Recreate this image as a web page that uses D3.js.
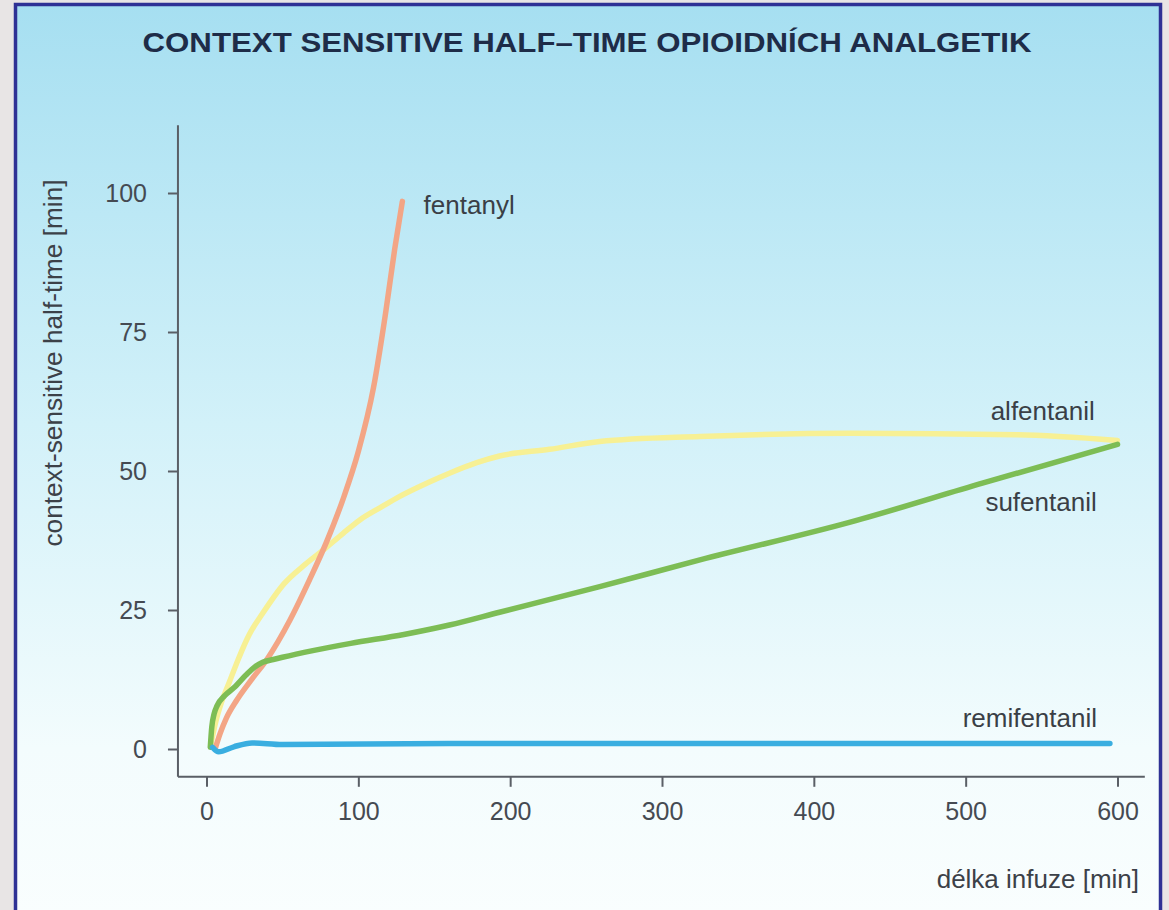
<!DOCTYPE html>
<html><head><meta charset="utf-8">
<script src="https://cdn.jsdelivr.net/npm/d3@7"></script>
<style>html,body{margin:0;padding:0;background:#e6e3e3;}svg{display:block;}</style>
</head><body>
<svg id="chart" width="1169" height="910"></svg>
<script>
// ---- data ----
const titleText = "CONTEXT SENSITIVE HALF\u2013TIME OPIOIDNÍCH ANALGETIK";
const xLabel = "délka infuze [min]";
const yLabel = "context-sensitive half-time [min]";
const xTicks = [0, 100, 200, 300, 400, 500, 600];
const yTicks = [0, 25, 50, 75, 100];

const fentanylT = [6, 9, 13, 20, 30, 40, 55, 68, 79, 90, 100, 110, 118, 124, 129];
const fentanylV = [0.3, 2.8, 5.5, 8.8, 12.6, 16.2, 23.2, 30.5, 37.2, 45, 53.5, 65, 78.5, 90, 98.5];

const alfentanilT = [3, 6, 10, 15, 21, 28, 37, 51, 65, 77, 90, 101, 115, 127, 145, 160, 178, 193, 226, 259, 325, 424, 534, 600];
const alfentanilV = [1, 4.8, 8.5, 12, 16.2, 20.5, 24.4, 29.7, 33.2, 35.8, 38.8, 41.2, 43.5, 45.4, 47.8, 49.6, 51.5, 52.7, 53.9, 55.3, 56.2, 56.8, 56.5, 55.5];

const sufentanilT = [2.5, 3.5, 5, 7, 12, 18, 26, 32, 37, 44, 50, 70, 95, 130, 160, 193, 259, 325, 424, 511, 600];
const sufentanilV = [0.3, 4, 6.3, 7.8, 9.6, 11, 13.3, 14.8, 15.6, 16.1, 16.5, 17.7, 19, 20.6, 22.3, 24.6, 29.2, 34, 40.8, 47.8, 54.8];

const remifentanilT = [4, 8, 18, 30, 50, 160, 300, 450, 595];
const remifentanilV = [0.3, -0.5, 0.4, 1.1, 0.8, 1.0, 1.0, 1.0, 1.0];

const seriesNames = ["alfentanil", "fentanyl", "sufentanil", "remifentanil"];
const seriesColors = ["#f7f094", "#f3a585", "#7dbd55", "#3aaee0"];

// ---- drawing ----
const svg = d3.select("#chart");
const defs = svg.append("defs");
const grad = defs.append("linearGradient").attr("id", "bg").attr("x1", 0).attr("y1", 0).attr("x2", 0).attr("y2", 1);
grad.append("stop").attr("offset", "0").attr("stop-color", "#a6dff1");
grad.append("stop").attr("offset", "0.45").attr("stop-color", "#d2f1f9");
grad.append("stop").attr("offset", "0.8").attr("stop-color", "#f3fcfd");
grad.append("stop").attr("offset", "1").attr("stop-color", "#fafefe");

svg.append("rect").attr("x", 0).attr("y", 0).attr("width", 1169).attr("height", 910).attr("fill", "#e8e5e5");
svg.append("rect").attr("x", 15.5).attr("y", 4.5).attr("width", 1145).attr("height", 930)
  .attr("fill", "url(#bg)").attr("stroke", "#2e3195").attr("stroke-width", 3.5);

const x = d3.scaleLinear().domain([0, 600]).range([206.5, 1117.5]);
const y = d3.scaleLinear().domain([0, 100]).range([749, 193]);

const FONT = "Liberation Sans, Arial, sans-serif";

// title
svg.append("text").attr("x", 587).attr("y", 52).attr("text-anchor", "middle")
  .attr("font-family", FONT).attr("font-weight", "bold")
  .attr("font-size", 28).attr("fill", "#1e2c48")
  .attr("textLength", 889).attr("lengthAdjust", "spacingAndGlyphs")
  .text(titleText);

const axisColor = "#5a5f66";
const g = svg.append("g");

// axis lines
g.append("line").attr("x1", x(-18.8)).attr("x2", x(-18.8)).attr("y1", y(112.2)).attr("y2", y(-5))
  .attr("stroke", axisColor).attr("stroke-width", 2);
g.append("line").attr("x1", x(-18.8)).attr("x2", x(618)).attr("y1", y(-5)).attr("y2", y(-5))
  .attr("stroke", axisColor).attr("stroke-width", 2);

const yAxis = g.append("g").attr("transform", `translate(${x(-18.8)},0)`)
  .call(d3.axisLeft(y).tickValues(yTicks).tickSize(10).tickPadding(21));
const xAxis = g.append("g").attr("transform", `translate(0,${y(-5)})`)
  .call(d3.axisBottom(x).tickValues(xTicks).tickSize(10).tickPadding(15));
[yAxis, xAxis].forEach(a => {
  a.select(".domain").remove();
  a.selectAll(".tick line").attr("stroke", axisColor).attr("stroke-width", 2);
  a.selectAll(".tick text").attr("fill", "#454a52").attr("font-size", 25)
    .attr("font-family", FONT);
});

// axis labels
svg.append("text").attr("transform", "translate(62,363) rotate(-90)").attr("text-anchor", "middle")
  .attr("font-family", FONT).attr("font-size", 26).attr("fill", "#3c4148")
  .attr("textLength", 367).attr("lengthAdjust", "spacingAndGlyphs")
  .text(yLabel);
svg.append("text").attr("x", 1139).attr("y", 888).attr("text-anchor", "end")
  .attr("font-family", FONT).attr("font-size", 26).attr("fill", "#3c4148")
  .text(xLabel);

// curves
const seriesData = [
  alfentanilT.map((t, i) => [t, alfentanilV[i]]),
  fentanylT.map((t, i) => [t, fentanylV[i]]),
  sufentanilT.map((t, i) => [t, sufentanilV[i]]),
  remifentanilT.map((t, i) => [t, remifentanilV[i]])
];
const line = d3.line().x(d => x(d[0])).y(d => y(d[1])).curve(d3.curveMonotoneX);
seriesData.forEach((data, i) => {
  svg.append("path").datum(data).attr("d", line).attr("fill", "none")
    .attr("stroke", seriesColors[i]).attr("stroke-width", 5.5)
    .attr("stroke-linecap", "round").attr("stroke-linejoin", "round");
});

// series labels
function lbl(txt, px, py, anchor) {
  svg.append("text").attr("x", px).attr("y", py).attr("text-anchor", anchor)
    .attr("font-family", FONT).attr("font-size", 26).attr("fill", "#3a3f46").text(txt);
}
lbl(seriesNames[1], x(143), y(96.3), "start");
lbl(seriesNames[0], x(585), y(59.2), "end");
lbl(seriesNames[2], x(513), y(42.8), "start");
lbl(seriesNames[3], x(498), y(3.9), "start");
</script>
</body></html>
